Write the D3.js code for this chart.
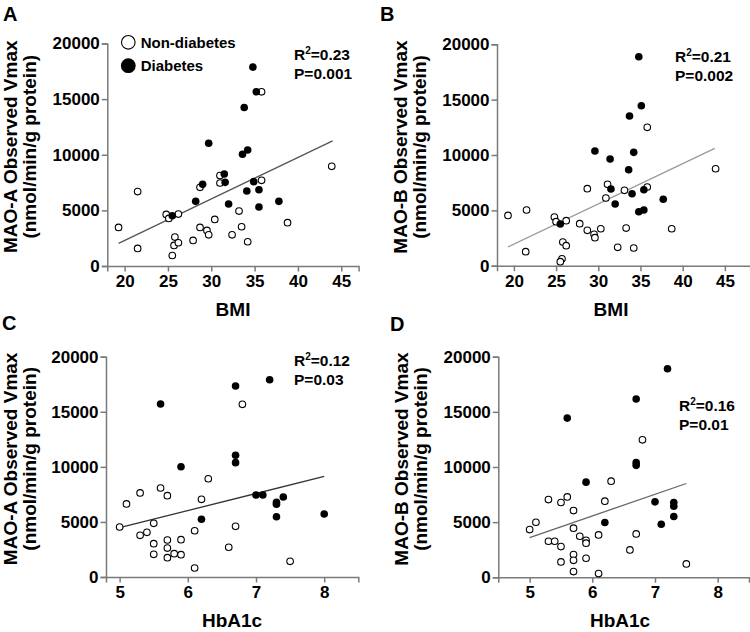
<!DOCTYPE html>
<html>
<head>
<meta charset="utf-8">
<script src="https://cdn.jsdelivr.net/npm/d3@7"></script>
<style>
  body { margin: 0; background: #fff; }
  svg { display: block; font-family: Arial, "Liberation Sans", Helvetica, sans-serif; font-weight: bold; }
  .axis path, .axis line { stroke: #7a7a7a; stroke-width: 1.5; }
  .axis text { fill: #000; font-size: 17px; font-weight: bold; font-family: Arial, "Liberation Sans", sans-serif; }
</style>
</head>
<body>
<svg id="chart" width="750" height="632"></svg>
<script>
// tick values
const yTicks = [0, 5000, 10000, 15000, 20000];
const bmiTicks = [20, 25, 30, 35, 40, 45];
const hba1cTicks = [5, 6, 7, 8];

// A: MAO-A vs BMI  [BMI, Vmax]
const maoA_bmi_non = [[19.3,3470],[21.5,6690],[21.5,1580],[24.8,4640],[25.1,4280],[26.2,4670],[25.8,2600],[25.7,1850],[26.2,2090],[25.5,945],[27.9,2300],[28.7,3470],[28.7,7070],[29.5,3200],[29.7,2800],[30.4,4190],[31.0,8130],[31.0,7460],[32.4,2800],[33.2,4940],[33.5,3530],[34.2,2180],[35.8,15660],[35.8,7700],[38.8,3890],[43.9,8960]];
const maoA_bmi_dia = [[25.5,4520],[28.2,5810],[29.0,7340],[29.7,11040],[31.5,8270],[31.6,7520],[32.0,5570],[33.6,10045],[34.2,10430],[33.8,14250],[34.1,6740],[34.8,17880],[35.2,15660],[34.9,7580],[35.5,6860],[35.5,5300],[37.8,5810]];
const maoA_bmi_fit = [[19.3,2030],[44.0,11250]];
const maoA_bmi_stats = ["0.23", "0.001"];

// B: MAO-B vs BMI
const maoB_bmi_non = [[19.3,4540],[21.5,5030],[21.4,1265],[24.8,4400],[25.0,3975],[26.2,4065],[25.8,2140],[26.2,1805],[25.7,630],[25.5,360],[27.8,3795],[28.7,3200],[28.7,6960],[29.5,2840],[29.6,2530],[30.3,3340],[31.1,7350],[30.9,6115],[32.3,1660],[33.1,6810],[33.3,3400],[34.2,1600],[35.8,12500],[35.8,7110],[38.7,3340],[43.9,8760]];
const maoB_bmi_dia = [[25.5,3770],[29.6,10360],[31.4,9640],[31.5,6930],[32.0,5575],[33.6,8670],[33.7,13520],[34.2,10240],[34.0,6505],[34.8,18880],[35.1,14450],[34.8,4880],[35.4,5030],[35.4,6865],[37.7,6000]];
const maoB_bmi_fit = [[19.3,1690],[43.8,10605]];
const maoB_bmi_stats = ["0.21", "0.002"];

// C: MAO-A vs HbA1c
const maoA_hba_non = [[5.0,4540],[5.1,6630],[5.3,7630],[5.3,3785],[5.4,4060],[5.5,4875],[5.5,3025],[5.5,2060],[5.6,8080],[5.7,7380],[5.7,3360],[5.7,2630],[5.7,1750],[5.8,2115],[5.9,3385],[5.9,2025],[6.1,4200],[6.1,815],[6.2,7050],[6.3,8920],[6.6,2700],[6.7,4600],[6.8,15680],[7.5,1425]];
const maoA_hba_dia = [[5.6,15705],[5.9,10010],[6.2,5240],[6.7,17340],[6.7,11050],[6.7,10380],[7.2,17910],[7.0,7445],[7.1,7445],[7.3,6780],[7.3,6600],[7.3,5475],[7.4,7260],[8.0,5720]];
const maoA_hba_fit = [[5.0,4475],[8.0,9140]];
const maoA_hba_stats = ["0.12", "0.03"];

// D: MAO-B vs HbA1c
const maoB_hba_non = [[5.0,4330],[5.1,4990],[5.3,3270],[5.4,3270],[5.3,7050],[5.5,6780],[5.5,2790],[5.5,1390],[5.6,7290],[5.7,6050],[5.7,4450],[5.7,2060],[5.7,1540],[5.7,515],[5.8,3720],[5.9,3360],[5.9,3090],[5.9,1725],[6.1,3840],[6.1,335],[6.2,6900],[6.3,8715],[6.6,2480],[6.7,3930],[6.8,12465],[7.5,1210]];
const maoB_hba_dia = [[5.6,14435],[5.9,8625],[6.2,4965],[6.7,16160],[6.7,10400],[6.7,10150],[7.2,18910],[7.0,6840],[7.1,4810],[7.3,6780],[7.3,6445],[7.3,5510]];
const maoB_hba_fit = [[5.0,3600],[7.5,8505]];
const maoB_hba_stats = ["0.16", "0.01"];

const legendLabels = ["Non-diabetes", "Diabetes"];

// layout for each panel (pixels)
const panels = [
  { letter: "A", lx: 3, ly: 20.5, non: maoA_bmi_non, dia: maoA_bmi_dia, fit: maoA_bmi_fit, stats: maoA_bmi_stats,
    xDomain: [18, 47], xRange: [107.3, 358.6], yRange: [266, 43.5], xTicks: bmiTicks, xTitle: "BMI", xTitleX: 233,
    yTitle: "MAO-A Observed Vmax", yTitleX: 16.5, statsX: 294, statsY: 60, fitColor: "#555", legend: true },
  { letter: "B", lx: 380, ly: 20.5, non: maoB_bmi_non, dia: maoB_bmi_dia, fit: maoB_bmi_fit, stats: maoB_bmi_stats,
    xDomain: [18, 48], xRange: [497, 750.2], yRange: [265.7, 44.3], xTicks: bmiTicks, xTitle: "BMI", xTitleX: 611,
    yTitle: "MAO-B Observed Vmax", yTitleX: 407, statsX: 675, statsY: 61.5, fitColor: "#999", legend: false },
  { letter: "C", lx: 2, ly: 330, non: maoA_hba_non, dia: maoA_hba_dia, fit: maoA_hba_fit, stats: maoA_hba_stats,
    xDomain: [4.8, 8.5], xRange: [106, 358.3], yRange: [577, 356.7], xTicks: hba1cTicks, xTitle: "HbA1c", xTitleX: 232,
    yTitle: "MAO-A Observed Vmax", yTitleX: 16.5, statsX: 294, statsY: 366, fitColor: "#333", legend: false },
  { letter: "D", lx: 390, ly: 331, non: maoB_hba_non, dia: maoB_hba_dia, fit: maoB_hba_fit, stats: maoB_hba_stats,
    xDomain: [4.5, 8.5], xRange: [498.3, 749], yRange: [577.3, 356.7], xTicks: hba1cTicks, xTitle: "HbA1c", xTitleX: 620,
    yTitle: "MAO-B Observed Vmax", yTitleX: 407.5, statsX: 679, statsY: 410.5, fitColor: "#666", legend: false }
];

const svg = d3.select("#chart");
const R = 3.3;
const fmt = d3.format("d");

panels.forEach(p => {
  const x = d3.scaleLinear().domain(p.xDomain).range(p.xRange);
  const y = d3.scaleLinear().domain([0, 20000]).range(p.yRange);
  const g = svg.append("g");

  g.append("text").attr("x", p.lx).attr("y", p.ly)
    .attr("font-size", 20).text(p.letter);

  g.append("g").attr("class", "axis")
    .attr("transform", `translate(0,${p.yRange[0]})`)
    .call(d3.axisBottom(x).tickValues(p.xTicks).tickFormat(fmt).tickSizeOuter(0).tickSize(5.5).tickPadding(3.5));

  g.append("g").attr("class", "axis")
    .attr("transform", `translate(${p.xRange[0]},0)`)
    .call(d3.axisLeft(y).tickValues(yTicks).tickFormat(fmt).tickSizeOuter(0).tickSize(5.5).tickPadding(2));

  // axis titles
  g.append("text").attr("x", p.xTitleX).attr("y", p.yRange[0] + 50)
    .attr("text-anchor", "middle").attr("font-size", 19).text(p.xTitle);

  const cy = (p.yRange[0] + p.yRange[1]) / 2 - 8;
  g.append("text").attr("transform", `translate(${p.yTitleX},${cy}) rotate(-90)`)
    .attr("text-anchor", "middle").attr("font-size", 19).text(p.yTitle);
  g.append("text").attr("transform", `translate(${p.yTitleX + 19},${cy}) rotate(-90)`)
    .attr("text-anchor", "middle").attr("font-size", 19).text("(nmol/min/g protein)");

  // regression line
  g.append("path")
    .attr("d", d3.line().x(d => x(d[0])).y(d => y(d[1]))(p.fit))
    .attr("fill", "none").attr("stroke", p.fitColor).attr("stroke-width", 1.3);

  g.selectAll("circle.non").data(p.non).enter().append("circle")
    .attr("class", "non")
    .attr("cx", d => x(d[0])).attr("cy", d => y(d[1])).attr("r", R)
    .attr("fill", "#fff").attr("stroke", "#000").attr("stroke-width", 1.1);

  g.selectAll("circle.dia").data(p.dia).enter().append("circle")
    .attr("class", "dia")
    .attr("cx", d => x(d[0])).attr("cy", d => y(d[1])).attr("r", R + 0.5)
    .attr("fill", "#000");

  // R2 / P text
  const t1 = g.append("text").attr("x", p.statsX).attr("y", p.statsY).attr("font-size", 15.5);
  t1.append("tspan").text("R");
  t1.append("tspan").attr("font-size", 10).attr("dy", -6).text("2");
  t1.append("tspan").attr("dy", 6).text("=" + p.stats[0]);
  g.append("text").attr("x", p.statsX).attr("y", p.statsY + 19).attr("font-size", 15.5)
    .text("P=" + p.stats[1]);

  if (p.legend) {
    const lg = g.append("g");
    legendLabels.forEach((lab, i) => {
      const ly = 42.3 + i * 23.4;
      lg.append("circle").attr("cx", 128.3).attr("cy", ly).attr("r", i ? 7.4 : 6.8)
        .attr("fill", i ? "#000" : "#fff").attr("stroke", "#000").attr("stroke-width", i ? 0 : 1.1);
      lg.append("text").attr("x", 140.7).attr("y", ly + 5.5).attr("font-size", 15).text(lab);
    });
  }
});
</script>
</body>
</html>
